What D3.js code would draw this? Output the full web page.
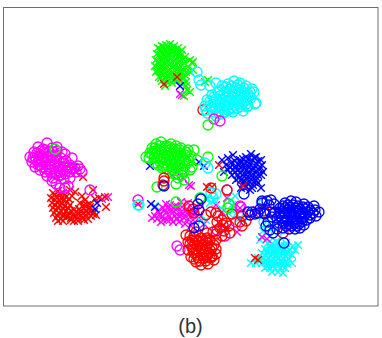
<!DOCTYPE html>
<html><head><meta charset="utf-8">
<script src="https://cdnjs.cloudflare.com/ajax/libs/d3/7.8.5/d3.min.js"></script>
<style>html,body{margin:0;background:#fff}svg{display:block}</style></head>
<body><svg id="c" width="382" height="338"></svg>
<script>
const caption = "(b)";
const greenCross = [[158,48],[162,46],[166,45],[170,44],[174,46],[178,48],[182,50],[157,54],[161,52],[165,50],[169,49],[173,51],[177,53],[181,55],[185,57],[156,60],[160,58],[164,56],[168,55],[172,57],[176,59],[180,61],[184,63],[155,66],[159,64],[163,62],[167,61],[171,63],[175,65],[179,67],[183,69],[157,71],[161,69],[165,68],[169,70],[173,72],[177,73],[181,74],[186,72],[190,60],[192,63],[159,77],[163,75],[167,76],[171,78],[175,79],[179,79],[184,78],[162,81],[167,82],[172,83],[183,84],[186,82],[193,62],[190,72],[205,82],[208,80],[187,90],[190,92],[186,86],[184,96],[156,72],[188,67],[193,70]];
const greenCrossCore = [[160,49],[164,47],[168,47],[172,49],[176,50],[180,52],[159,55],[163,53],[167,52],[171,54],[175,55],[179,57],[183,59],[158,62],[162,60],[166,58],[170,59],[174,61],[178,63],[182,65],[161,66],[165,64],[169,65],[173,67],[177,69],[181,71],[159,70],[163,71],[167,72],[171,74],[175,75],[179,76],[161,78],[165,78],[169,80],[173,80],[177,81],[165,86],[181,80],[185,75]];
const cyanCircle = [[197,72],[199,80],[201,85],[210,86],[216,83],[222,86],[228,84],[234,81],[240,83],[246,86],[252,89],[207,100],[212,95],[218,92],[224,93],[230,89],[236,88],[242,91],[248,94],[254,92],[205,106],[210,101],[216,99],[222,100],[228,96],[234,94],[240,97],[246,100],[251,98],[256,103],[206,110],[212,107],[218,105],[224,106],[230,102],[236,101],[242,104],[247,107],[213,112],[219,111],[225,112],[231,108],[237,108],[243,111],[248,106],[255,104],[207,113],[216,116],[222,114],[233,112],[246,104]];
const cyanCircleCore = [[226,87],[232,86],[238,85],[244,88],[220,90],[226,91],[232,92],[238,90],[244,93],[250,92],[214,97],[220,96],[226,98],[232,97],[238,94],[244,97],[249,96],[214,102],[220,103],[226,102],[232,100],[238,100],[244,102],[210,106],[216,108],[222,108],[228,105],[234,105],[240,107],[219,114],[228,110],[234,109]];
const redCrossTop = [[164,84],[177,77]];
const blueCrossTop = [[180,86]];
const magentaCrossTop = [[180,94],[182,95]];
const redCircleTop = [[203,110]];
const greenCircleTop = [[208,125]];
const magentaCircleTop = [[214,119],[220,121]];
const magentaCircle = [[32,162],[34,152],[38,147],[43,149],[47,143],[52,148],[57,147],[62,152],[65,154],[72,158],[30,157],[36,160],[41,155],[46,153],[51,156],[56,155],[61,158],[66,161],[35,167],[40,165],[45,162],[50,164],[55,162],[60,166],[65,167],[70,165],[76,172],[80,169],[40,170],[45,172],[50,170],[55,172],[60,172],[65,174],[70,172],[75,168],[47,176],[53,178],[59,176],[64,179],[70,178],[56,184],[60,188],[65,188],[68,186],[90,190],[138,200],[78,166],[82,172]];
const magentaCircleCore = [[37,153],[41,151],[45,150],[49,151],[53,152],[57,151],[35,157],[39,158],[43,157],[47,157],[51,160],[55,158],[59,161],[63,163],[38,162],[42,160],[46,165],[50,167],[54,166],[58,168],[62,170],[42,167],[46,169],[51,173],[56,174],[61,175],[66,171],[38,165],[33,158],[72,168],[68,168],[52,181]];
const redCross = [[53,193],[58,191],[63,193],[70,190],[75,192],[51,198],[56,197],[61,198],[66,197],[72,196],[52,203],[57,202],[62,204],[67,202],[53,208],[58,207],[63,209],[68,208],[80,203],[85,200],[90,204],[95,199],[54,213],[59,213],[64,214],[69,213],[74,210],[79,209],[84,208],[89,209],[94,212],[56,218],[61,219],[66,217],[71,218],[76,216],[81,215],[86,215],[91,216],[96,215],[58,221],[74,221],[84,220],[88,219],[93,190],[99,198],[105,197],[106,207],[82,196],[87,205],[138,204],[83,177],[76,172]];
const redCrossCore = [[55,195],[60,194],[65,195],[55,200],[60,201],[64,200],[69,199],[55,205],[60,205],[65,206],[70,205],[56,210],[61,211],[66,211],[71,211],[76,212],[81,212],[86,211],[91,212],[58,216],[63,216],[68,216],[73,215],[78,218],[83,218],[88,213],[93,214],[78,213],[84,205],[90,207],[71,220],[63,221],[78,221]];
const blueCrossLeft = [[97,203],[95,209],[74,167]];
const magentaCrossLeft = [[108,197],[102,199]];
const cyanCircleLeft = [[138,205]];
const greenCircleLeft = [[55,149],[146,157]];
const greenCircle = [[149,158],[152,148],[156,144],[161,142],[166,146],[171,144],[176,146],[181,148],[188,150],[194,150],[150,153],[155,151],[160,149],[165,151],[170,150],[175,152],[180,153],[185,155],[191,156],[197,160],[154,158],[159,156],[164,157],[169,157],[174,158],[179,159],[184,160],[189,161],[155,163],[160,162],[165,163],[170,163],[175,164],[180,165],[185,166],[192,167],[162,168],[167,169],[172,170],[178,171],[184,172],[190,170],[178,178],[184,180],[157,187],[176,184],[208,157]];
const greenCircleCore = [[155,148],[160,146],[165,148],[170,147],[175,149],[180,150],[157,153],[162,152],[167,153],[172,154],[177,155],[182,156],[157,158],[161,159],[166,160],[171,160],[176,161],[181,162],[158,165],[163,166],[168,166],[173,167],[178,167],[183,169],[170,173],[175,174],[182,175],[187,163],[186,152],[152,154]];
const cyanCircleMid = [[205,163],[208,168],[211,193],[216,194],[213,198],[201,198],[139,205]];
const blueCrossMid = [[150,166],[199,162],[204,166],[155,207],[151,204]];
const redCircleMid = [[164,178],[164,181],[163,185],[211,188],[227,190],[232,214]];
const blueCircleMid = [[164,186],[201,199],[199,226],[238,164]];
const magentaCrossMid = [[189,185],[191,186],[172,175],[176,172],[183,178]];
const magentaCircleMid = [[227,190],[241,207],[236,222]];
const greenCircleMid = [[176,202],[200,198],[229,204],[228,208],[222,176]];
const blueCross = [[228,158],[233,155],[240,160],[246,157],[251,154],[256,157],[261,160],[226,165],[231,163],[236,166],[241,163],[247,162],[252,160],[257,164],[262,165],[228,170],[233,170],[238,170],[244,168],[249,167],[254,169],[259,170],[263,172],[232,175],[238,175],[243,175],[248,172],[253,174],[258,175],[236,180],[241,180],[246,178],[251,179],[256,180],[243,184],[248,184],[253,185],[258,183],[261,188],[222,160],[224,172],[250,190],[241,188]];
const blueCrossCore = [[243,159],[248,159],[254,158],[258,161],[235,161],[238,164],[244,165],[250,164],[255,166],[260,167],[230,167],[235,168],[241,168],[247,170],[252,170],[257,172],[235,172],[240,173],[246,175],[251,176],[256,177],[261,175],[239,178],[244,181],[249,181],[254,182],[246,187],[252,188]];
const redCrossMid = [[219,165],[207,187],[243,186],[212,187]];
const magentaCross = [[155,216],[158,211],[162,217],[163,208],[166,213],[170,205],[172,210],[175,216],[178,207],[181,212],[184,218],[187,209],[190,214],[193,220],[196,211],[199,218],[161,222],[167,220],[173,222],[179,222],[185,224],[191,226],[152,218],[166,204],[181,202],[200,205],[216,205],[204,224],[222,212],[227,198],[188,203],[240,208],[237,232],[226,228],[208,242]];
const magentaCrossCore = [[160,214],[165,210],[169,216],[172,213],[176,210],[179,216],[183,214],[187,213],[192,210],[168,208],[175,206],[182,207],[171,219],[177,219],[188,219],[194,215],[157,219],[163,220]];
const cyanCrossMid = [[155,206],[210,203],[214,200],[206,220],[207,198],[231,200],[235,196],[240,218],[244,222],[234,210],[236,214],[201,221],[221,208],[228,213],[232,205]];
const redCircle = [[186,235],[188,242],[188,250],[191,257],[196,262],[201,265],[208,264],[214,260],[216,254],[214,245],[207,233],[196,232],[192,240],[196,240],[201,238],[206,240],[210,240],[192,247],[197,246],[202,245],[207,246],[212,248],[194,253],[199,252],[204,252],[209,253],[198,258],[204,258],[210,258],[193,209],[189,206],[194,213],[206,215],[216,213],[211,212],[218,216],[217,222],[222,220],[223,225],[229,226],[224,231],[222,236],[216,234],[230,233],[240,222],[242,226],[207,238],[216,240],[213,232]];
const redCircleCore = [[190,236],[194,236],[199,241],[203,241],[208,243],[190,244],[195,243],[200,248],[205,249],[210,250],[193,250],[197,255],[202,255],[207,256],[212,256],[194,259],[200,261],[206,261],[212,257],[196,249],[216,249],[220,228],[226,223]];
const magentaCircleLow = [[177,246],[180,250],[225,236],[217,230]];
const blueCircleLow = [[198,204],[194,228],[199,210]];
const blueCircle = [[262,201],[267,201],[271,200],[274,204],[285,203],[291,201],[296,202],[304,204],[314,206],[319,212],[280,208],[285,208],[290,207],[295,208],[300,209],[305,209],[310,210],[315,210],[275,212],[280,213],[285,213],[290,212],[295,213],[300,214],[305,214],[310,215],[316,216],[272,217],[277,218],[282,218],[287,218],[292,218],[297,219],[302,219],[307,220],[279,223],[284,223],[289,224],[294,224],[299,224],[304,225],[283,228],[289,229],[295,229],[300,228],[248,212],[252,212],[258,213],[264,213],[270,212],[255,214],[260,209],[265,214],[268,222],[266,226],[270,230],[273,233],[277,229],[284,243],[269,205],[244,194]];
const blueCircleCore = [[283,206],[288,205],[293,205],[298,206],[303,207],[308,207],[313,213],[283,211],[288,210],[293,210],[298,211],[303,212],[308,212],[279,216],[284,216],[289,215],[294,216],[299,216],[304,217],[310,218],[282,221],[287,221],[292,221],[297,222],[302,222],[286,226],[291,226],[297,226]];
const cyanCircleRight = [[264,203],[264,222],[269,226],[276,235]];
const redCircleRight = [[246,221],[242,216],[264,211],[274,213],[283,233]];
const magentaCircleRight = [[240,206]];
const blueCircleRight = [[250,215],[262,203]];
const redCrossRight = [[257,210],[254,213],[255,258],[258,260]];
const cyanCross = [[268,243],[272,244],[277,242],[281,245],[286,243],[293,246],[298,245],[265,249],[270,248],[275,249],[280,248],[285,249],[290,250],[295,250],[262,253],[267,253],[272,254],[277,253],[282,254],[287,254],[292,255],[258,258],[264,258],[269,258],[274,259],[279,258],[284,259],[289,259],[251,263],[256,263],[262,263],[267,263],[272,264],[277,264],[282,263],[287,264],[292,263],[265,268],[270,268],[275,269],[280,268],[285,268],[272,272],[278,272],[283,273],[260,240],[262,237],[263,231]];
const cyanCrossCore = [[270,246],[275,246],[280,246],[285,246],[267,251],[272,251],[277,251],[282,251],[287,252],[265,255],[270,256],[275,256],[280,256],[285,256],[261,260],[266,261],[271,261],[276,261],[281,261],[286,261],[268,266],[273,266],[278,266],[283,266]];
const magentaCrossRight = [[262,237],[267,239]];

const x = d3.scaleLinear().domain([3,378]).range([3,378]);
const y = d3.scaleLinear().domain([7,306]).range([7,306]);
const svg = d3.select("#c");
svg.append("rect").attr("x",3.5).attr("y",7.5).attr("width",374.5).attr("height",298.5)
  .attr("fill","#fff").attr("stroke","#6e6e6e").attr("stroke-width",1);

const R = "#ff0000", G = "#00ff00", B = "#0000ff", C = "#00ffff", M = "#ff00ff";
const crossPath = d3.symbol().type(d3.symbolTimes).size(40)();
function crosses(data, color){
  svg.append("g").selectAll("path").data(data).join("path")
    .attr("d",crossPath).attr("transform",d=>`translate(${x(d[0])},${y(d[1])})`)
    .attr("fill","none").attr("stroke",color).attr("stroke-width",1.4);
}
function circles(data, color){
  svg.append("g").selectAll("circle").data(data).join("circle")
    .attr("cx",d=>x(d[0])).attr("cy",d=>y(d[1])).attr("r",5)
    .attr("fill","none").attr("stroke",color).attr("stroke-width",1.3);
}
[[magentaCross,M],[magentaCrossCore,M],[magentaCrossLeft,M],[magentaCrossTop,M],[magentaCrossMid,M],[cyanCrossMid,C],[cyanCross,C],[cyanCrossCore,C],[magentaCrossRight,M],[greenCross,G],[greenCrossCore,G],[blueCross,B],[blueCrossCore,B],[blueCrossMid,B],[blueCrossTop,B],[redCross,R],[redCrossCore,R],[blueCrossLeft,B],[redCrossTop,R],[redCrossMid,R],[redCrossRight,R]].forEach(s=>crosses(s[0],s[1]));
[[redCircleTop,R],[cyanCircle,C],[cyanCircleCore,C],[magentaCircle,M],[magentaCircleCore,M],[greenCircle,G],[greenCircleCore,G],[cyanCircleMid,C],[cyanCircleLeft,C],[cyanCircleRight,C],[magentaCircleTop,M],[magentaCircleMid,M],[magentaCircleLow,M],[magentaCircleRight,M],[redCircle,R],[redCircleCore,R],[redCircleMid,R],[redCircleRight,R],[greenCircleTop,G],[greenCircleLeft,G],[greenCircleMid,G],[blueCircle,B],[blueCircleCore,B],[blueCircleMid,B],[blueCircleLow,B],[blueCircleRight,B]].forEach(s=>circles(s[0],s[1]));

svg.append("text").attr("x",190.5).attr("y",333).attr("text-anchor","middle")
  .attr("font-family","Liberation Sans, Arial, sans-serif").attr("font-size",20).attr("fill","#333").text(caption);
</script></body></html>
